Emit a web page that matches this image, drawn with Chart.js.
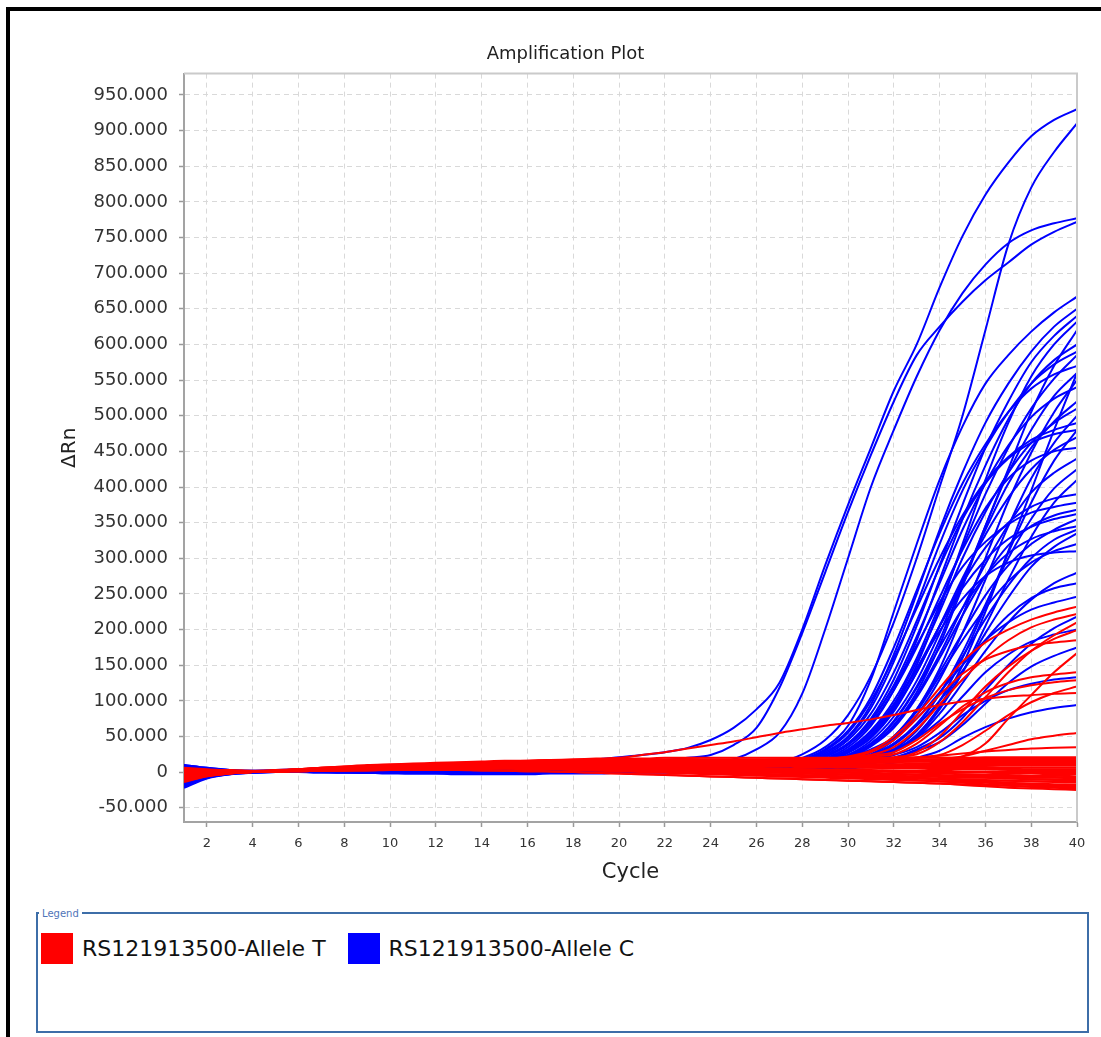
<!DOCTYPE html>
<html>
<head>
<meta charset="utf-8">
<title>Amplification Plot</title>
<script src="https://cdn.jsdelivr.net/npm/chart.js@4.4.1/dist/chart.umd.min.js"></script>
<style>
  html, body { margin: 0; padding: 0; background: #fff; }
  body { width: 1101px; height: 1037px; position: relative; overflow: hidden; font-family: 'DejaVu Sans', sans-serif; }
  #frame { position: absolute; left: 6px; top: 7px; width: 1101px; height: 1040px; border-left: 4px solid #000; border-top: 4px solid #000; }
  #wrap { position: absolute; left: 21px; top: 10px; width: 1080px; height: 884px; }
  #legend-box { position: absolute; left: 36px; top: 912px; width: 1053px; height: 121px; box-sizing: border-box; border: 2px solid #3d6ea8; }
  #legend-title { position: absolute; left: 39px; top: 908px; background: #fff; padding: 0 3px; font-size: 10px; color: #4f74b8; }
  #legend-items { position: absolute; left: 41px; top: 932px; display: flex; gap: 22px; }
  .item { display: flex; align-items: center; height: 32px; font-size: 22px; color: #111; }
  .swatch { width: 32px; height: 31px; margin-right: 9px; }
</style>
</head>
<body>
<div id="frame"></div>
<div id="wrap"><canvas id="chart-amp" width="1080" height="884"></canvas></div>
<div id="legend-box"></div>
<div id="legend-title">Legend</div>
<div id="legend-items"></div>

<script>
const cycles = [1,2,3,4,5,6,7,8,9,10,11,12,13,14,15,16,17,18,19,20,21,22,23,24,25,26,27,28,29,30,31,32,33,34,35,36,37,38,39,40]
const xTickValues = [2,4,6,8,10,12,14,16,18,20,22,24,26,28,30,32,34,36,38,40]
const yTickValues = [-50,0,50,100,150,200,250,300,350,400,450,500,550,600,650,700,750,800,850,900,950]
const seriesNames = ['RS121913500-Allele T', 'RS121913500-Allele C']
const seriesColors = ['#ff0000', '#0000ff']

// Allele T (red) wells
const alleleT = [
    [2,3,3,2,3,4,5,6,7,8,9,10,10,11,12,12,13,13,14,14,15,15,16,16,17,17,18,18,19,19,19,20,20,20,20,21,21,21,21,21],
    [-6,-2,0,1,2,3,4,5,6,7,8,9,10,11,12,13,14,15,16,16,17,17,18,18,18,18,18,18,17,17,17,17,17,17,18,18,18,18,18,18],
    [5,3,1,0,2,4,6,8,10,11,12,13,14,15,16,16,17,17,17,18,18,18,18,17,17,17,16,16,16,16,16,15,15,15,15,15,15,15,15,15],
    [-10,-4,-1,0,1,2,3,4,5,6,7,8,9,9,10,10,11,11,11,12,12,13,13,13,13,12,12,12,11,11,11,11,12,12,12,12,12,12,12,12],
    [0,0,0,0,1,2,3,4,5,6,7,8,9,10,10,11,11,12,12,12,12,12,11,11,11,11,10,10,10,10,10,10,10,10,9,9,9,9,9,9],
    [-14,-6,-2,0,1,3,4,5,6,7,8,9,10,10,11,11,11,11,11,11,11,10,10,10,9,9,9,8,8,8,8,7,7,7,7,7,6,6,6,6],
    [3,2,1,1,2,3,4,5,6,7,8,9,10,11,12,13,14,14,14,14,14,13,13,12,11,10,9,8,7,6,6,5,5,4,4,4,3,3,3,3],
    [-3,-1,0,0,1,2,3,4,5,6,7,8,8,9,9,9,9,9,9,9,8,8,7,7,6,5,5,4,4,3,3,2,2,2,1,1,1,0,0,0],
    [-8,-3,-1,0,1,2,3,3,4,5,5,6,6,7,7,7,8,8,8,8,8,7,7,6,6,5,4,3,3,2,2,1,0,0,-1,-1,-2,-2,-3,-3],
    [4,3,2,1,2,3,4,5,6,7,8,9,10,11,11,12,12,12,12,12,11,10,9,8,7,6,5,4,3,2,1,0,-1,-2,-3,-4,-4,-5,-5,-6],
    [-5,-2,0,0,1,2,2,3,3,4,4,5,5,5,6,6,6,6,6,6,5,5,4,4,3,2,2,1,0,-1,-2,-3,-4,-5,-6,-7,-7,-8,-8,-9],
    [1,1,0,0,1,2,3,4,5,6,7,8,8,9,9,10,10,10,10,10,9,8,7,6,5,4,3,2,1,0,-1,-2,-4,-5,-7,-8,-9,-10,-11,-12],
    [-12,-5,-2,0,1,2,3,4,5,5,6,6,7,7,7,7,7,7,6,6,5,4,3,2,1,0,-1,-2,-3,-4,-5,-6,-8,-9,-10,-11,-12,-13,-14,-15],
    [2,1,0,0,1,2,3,4,5,6,7,8,8,8,8,8,8,7,7,6,5,4,3,2,1,0,-1,-2,-3,-4,-5,-7,-8,-10,-12,-13,-15,-16,-17,-18],
    [-2,-1,0,0,1,2,3,3,4,4,5,5,5,5,5,5,4,4,3,2,1,0,-1,-2,-3,-4,-5,-6,-7,-8,-9,-10,-11,-13,-15,-17,-19,-20,-21,-22],
    [-6,-3,-1,0,1,1,2,2,3,3,3,3,3,3,2,2,1,0,-1,-2,-3,-4,-5,-6,-7,-8,-9,-10,-11,-12,-13,-14,-15,-16,-18,-20,-22,-23,-24,-25],
    [-1,0,0,0,2,4,6,7,8,9,10,11,12,13,14,15,16,17,18,19,19,20,20,20,20,20,20,20,20,20,20,20,20,20,20,19,19,19,19,19],
    [-9,-4,-1,0,1,2,3,4,5,6,6,7,7,7,7,7,6,6,5,4,3,2,1,0,-1,-2,-3,-4,-5,-6,-7,-8,-9,-10,-12,-14,-16,-17,-19,-20],
    [1,1,1,1,2,4,5,7,8,9,10,11,12,13,13,14,14,15,15,15,16,16,16,16,16,17,17,17,17,17,16,16,16,16,16,16,16,16,16,16],
    [-7,-3,-1,0,1,2,3,4,5,6,7,8,9,10,11,12,13,13,14,14,14,14,13,13,13,12,12,12,12,11,11,11,11,11,10,10,10,10,10,10],
    [6,4,2,1,2,3,4,5,6,7,8,8,9,9,10,10,10,10,10,10,10,9,9,9,8,8,8,7,7,7,6,6,6,5,5,5,5,4,4,4],
    [-11,-5,-2,0,1,2,3,4,5,6,6,7,7,8,8,8,8,8,8,8,7,7,6,6,5,5,4,4,3,3,2,2,1,1,0,0,-1,-1,-2,-2],
    [0,0,0,0,1,2,3,4,5,6,7,8,9,9,10,10,10,10,9,9,8,7,6,5,4,3,2,1,0,-1,-2,-3,-3,-4,-5,-5,-6,-7,-7,-8],
    [-4,-2,-1,0,1,2,2,3,3,4,4,4,5,5,5,5,5,4,4,3,2,1,0,-1,-2,-3,-4,-5,-6,-7,-8,-9,-9,-10,-11,-12,-12,-13,-13,-14],
    [3,2,1,0,1,2,3,3,4,4,5,5,5,5,5,4,4,3,2,1,0,-1,-2,-3,-4,-5,-6,-7,-8,-9,-10,-11,-12,-13,-14,-15,-17,-18,-19,-20],
    [-13,-6,-2,0,1,1,2,2,2,3,3,3,3,2,2,1,1,0,-1,-2,-3,-4,-5,-6,-7,-8,-9,-10,-11,-12,-13,-14,-15,-16,-17,-18,-19,-21,-22,-23],
    [-1,0,0,0,1,3,5,6,8,9,10,11,12,13,14,15,16,16,17,17,17,17,17,17,16,16,16,16,15,15,15,15,15,14,14,14,14,14,14,14],
    [2,1,0,0,1,2,3,4,5,6,7,7,8,8,8,8,8,8,7,7,6,5,4,3,2,1,0,-1,-2,-3,-4,-5,-6,-7,-8,-8,-9,-10,-10,-11],
    [-4,-2,0,0,1,2,3,4,5,6,7,8,9,10,11,12,12,13,13,14,14,14,15,15,15,16,16,17,18,22,30,50,80,118,155,182,200,214,224,232],
    [3,2,1,1,2,3,4,5,6,7,8,9,10,10,11,11,12,12,12,13,13,13,13,14,14,14,15,16,17,19,24,35,60,95,130,160,185,203,214,222],
    [-8,-3,-1,0,1,2,3,4,5,5,6,7,7,8,8,9,9,9,10,10,10,10,10,10,11,11,11,12,12,13,15,19,28,50,85,120,148,170,187,199],
    [0,0,0,0,1,2,3,4,5,6,7,8,9,10,11,11,12,12,13,13,13,14,14,14,15,15,16,17,18,21,28,45,75,108,138,158,170,178,182,185],
    [-2,-1,0,0,1,2,3,4,5,6,7,8,9,9,10,10,10,11,11,11,11,11,11,11,12,12,12,12,12,13,13,14,15,17,22,40,75,108,140,167],
    [5,3,2,1,2,3,5,6,7,8,9,10,11,12,12,13,13,14,14,15,15,15,16,16,16,17,17,18,19,21,24,28,45,68,88,104,115,122,126,129],
    [-10,-4,-1,0,1,2,3,4,5,6,7,8,8,9,9,10,10,10,11,11,11,11,12,12,12,12,13,13,14,15,16,18,21,24,38,58,80,98,111,120],
    [1,1,0,0,2,4,6,8,9,10,11,12,13,14,15,16,17,18,19,20,24,28,33,38,43,49,55,60,65,69,74,80,87,94,99,103,106,108,110,111],
    [-3,-1,0,0,1,2,3,4,5,6,7,8,9,10,10,11,11,12,12,12,13,13,13,13,14,14,14,14,15,15,16,16,17,18,22,30,38,46,51,55],
    [2,1,1,0,1,2,3,4,5,6,7,8,9,10,11,12,13,13,14,14,15,15,16,16,16,17,17,17,18,18,18,19,20,23,26,29,31,33,34,35],
    [-6,-2,0,0,1,2,3,4,5,6,7,8,9,10,10,11,11,12,12,13,13,13,14,14,14,15,15,16,17,19,22,25,40,65,92,112,125,133,137,140],
    [4,2,1,0,1,2,3,4,5,6,7,8,9,9,10,10,11,11,12,12,12,13,13,13,13,14,14,14,15,16,18,21,25,42,70,105,140,170,192,210]
]

// Allele C (blue) wells
const alleleC = [
    [-6,-3,-1,0,1,2,3,4,5,6,7,8,9,10,11,12,14,16,18,21,24,28,34,45,62,88,125,200,290,375,455,535,600,680,752,810,855,892,915,930],
    [10,6,3,2,2,3,3,4,4,5,5,6,6,7,8,9,10,11,12,13,15,17,20,24,38,62,118,195,280,365,445,520,585,625,660,690,715,740,758,772],
    [-15,-6,-2,0,1,1,2,2,3,3,3,4,4,4,5,5,5,6,6,7,7,8,9,12,18,32,55,110,200,300,400,480,555,620,672,712,742,760,770,777],
    [9,5,2,1,1,1,1,2,2,2,2,2,2,3,3,3,3,3,3,3,4,4,5,6,7,9,14,25,45,80,135,210,300,400,500,620,740,820,870,910],
    [4,2,1,1,2,3,4,5,6,6,7,7,8,8,8,9,9,9,9,10,10,10,10,10,10,11,14,20,35,65,130,225,320,410,485,545,585,618,645,667],
    [-12,-5,-2,0,1,2,3,4,4,5,5,6,6,6,6,7,7,7,7,7,7,8,8,8,8,9,11,15,28,50,95,165,250,340,420,490,545,590,625,650],
    [-18,-7,-2,0,1,1,2,2,2,3,3,3,3,3,4,4,4,4,4,5,5,5,5,5,5,7,9,12,22,40,75,130,205,290,375,455,520,575,612,640],
    [9,5,2,1,1,1,1,2,2,2,2,2,2,3,3,3,3,3,3,3,4,4,4,4,4,5,6,8,15,28,50,90,150,230,320,410,490,555,600,632],
    [-2,-1,0,0,1,2,2,3,3,4,4,5,5,5,6,6,6,6,6,6,6,6,6,6,6,8,10,14,26,48,90,155,235,320,395,455,505,545,572,590],
    [-22,-9,-3,-1,0,1,1,1,2,2,2,3,3,3,3,3,3,4,4,4,4,4,4,4,4,5,7,10,18,32,58,100,160,235,315,390,455,510,552,585],
    [3,1,0,1,2,3,4,4,5,6,7,7,7,8,8,8,9,9,9,9,10,10,10,11,11,12,14,18,32,58,105,175,255,335,405,460,505,538,558,570],
    [-8,-3,-1,0,0,1,1,1,1,1,2,2,2,2,2,2,2,3,3,3,3,3,3,3,3,4,5,6,12,22,40,72,120,185,265,345,420,480,528,560],
    [6,3,1,0,0,0,1,1,1,1,1,1,1,1,1,1,1,1,1,1,1,1,1,1,1,2,3,5,9,16,28,50,88,145,220,300,380,448,505,550],
    [-10,-4,-1,0,1,2,2,3,4,4,5,5,5,6,6,6,6,7,7,7,7,7,8,8,8,9,10,12,22,40,72,122,190,265,340,405,458,498,524,540],
    [-15,-6,-2,0,1,1,1,2,2,2,3,3,3,3,3,4,4,4,4,4,4,5,5,5,5,6,7,9,17,30,55,95,155,225,300,365,420,462,490,510],
    [-4,-1,0,0,0,0,0,-1,-1,-1,-2,-2,-2,-2,-2,-2,-1,-1,-1,-1,0,0,0,0,0,1,2,4,8,14,25,45,80,130,195,270,345,412,462,500],
    [1,0,0,0,1,2,3,3,4,4,5,5,6,6,6,6,6,7,7,7,7,7,7,7,7,8,11,16,30,55,100,160,230,300,360,408,442,466,480,490],
    [2,1,0,0,1,1,1,2,2,2,2,1,1,1,1,1,0,0,0,0,0,0,1,1,1,1,2,3,6,10,18,32,58,100,160,232,308,378,437,480],
    [7,4,2,1,1,2,2,2,2,3,3,3,3,3,3,4,4,4,4,4,4,4,4,5,5,5,6,8,15,27,48,85,140,205,272,333,385,425,452,470],
    [-19,-8,-3,-1,0,0,1,1,1,2,2,2,2,2,3,3,3,3,3,3,3,3,3,3,4,4,5,6,12,22,38,65,108,165,230,292,347,392,420,440],
    [-6,-2,-1,0,0,0,-1,-1,-1,-2,-2,-2,-3,-3,-3,-3,-2,-2,-2,-1,-1,-1,0,0,0,1,2,3,5,9,16,28,50,88,140,205,270,330,378,410],
    [5,3,2,2,3,4,5,5,6,7,7,8,8,8,9,9,9,9,9,10,10,10,10,10,10,10,11,12,22,40,72,120,178,238,288,323,348,364,372,378],
    [-14,-6,-2,0,1,2,3,3,4,4,5,5,5,6,6,6,6,6,7,7,7,7,7,7,7,8,8,9,16,30,52,92,145,205,258,298,327,344,355,362],
    [-6,-2,-1,0,0,0,1,1,1,1,1,1,2,2,2,2,2,2,2,3,3,3,3,3,3,3,4,5,9,16,28,50,88,140,195,248,290,320,340,355],
    [-20,-8,-2,0,1,1,2,2,3,3,3,3,3,4,4,4,4,4,4,5,5,5,5,5,5,5,6,7,13,24,40,70,118,175,230,275,307,327,338,345],
    [4,2,1,0,0,0,0,1,1,1,1,1,1,1,1,1,1,1,1,1,1,1,1,1,1,1,2,3,6,10,18,30,52,90,140,195,245,288,316,335],
    [10,6,3,1,1,1,2,2,2,2,2,2,3,3,3,3,3,3,3,3,3,3,4,4,4,4,4,5,10,18,30,48,85,135,185,230,268,294,310,320],
    [0,0,0,0,1,1,1,1,2,2,2,2,2,1,1,1,1,1,0,0,0,0,0,1,1,1,2,3,6,11,18,30,48,82,125,170,210,242,265,280],
    [-3,-1,0,0,1,1,2,2,3,3,4,4,4,5,5,5,5,5,5,5,5,5,5,5,5,6,6,6,11,20,32,48,75,112,150,185,210,228,238,246],
    [-2,0,0,0,0,0,0,0,-1,-1,-1,-1,-1,-1,-1,-1,-1,-1,0,0,0,0,0,0,0,0,1,2,4,7,12,20,32,48,76,115,150,180,202,218],
    [-9,-4,-1,0,0,1,1,1,2,2,2,2,2,2,2,2,2,2,2,2,2,3,3,3,3,3,3,4,8,14,22,32,48,72,106,140,165,183,193,200],
    [7,4,2,1,0,0,0,0,0,0,0,0,0,0,0,1,1,1,1,1,1,1,1,1,1,1,1,2,4,7,12,20,30,42,66,96,125,148,163,175],
    [-16,-7,-3,-1,0,0,1,1,1,1,2,2,2,2,2,3,3,3,3,3,3,3,3,3,3,3,3,3,6,10,16,24,35,55,80,100,115,124,130,133],
    [3,2,1,0,0,1,1,1,1,1,1,1,1,0,0,0,0,0,0,0,0,0,0,1,1,1,1,2,3,5,8,13,20,30,48,63,75,84,90,94],
    [-7,-3,-1,0,1,1,2,2,3,3,3,4,4,4,4,5,5,5,5,5,5,6,6,6,6,7,8,10,19,35,65,115,185,270,355,430,495,545,578,600],
    [5,3,1,0,0,1,1,2,2,2,2,3,3,3,3,3,3,3,4,4,4,4,4,4,4,5,6,7,13,24,44,78,128,195,268,340,405,455,492,520],
    [-11,-4,-1,0,1,2,3,4,5,5,6,6,7,7,7,8,8,8,8,8,8,8,9,9,9,9,10,11,21,38,68,115,175,245,312,370,412,437,450,455],
    [0,0,0,0,0,0,0,0,0,-1,-1,-1,-1,-1,-1,-1,-1,0,0,0,0,0,0,1,1,2,3,4,7,12,21,38,66,110,168,235,300,355,398,425],
    [8,4,2,1,1,2,2,3,3,4,4,4,5,5,5,5,5,6,6,6,6,6,6,6,6,6,7,8,15,28,50,88,140,205,265,315,350,372,384,390],
    [-17,-7,-2,0,1,1,1,2,2,2,3,3,3,3,3,4,4,4,4,4,4,4,4,4,5,5,5,6,11,20,36,62,105,160,220,275,318,345,360,368],
    [3,1,0,0,1,1,1,1,1,1,2,2,2,2,2,2,2,2,2,2,2,2,2,2,2,3,3,4,7,13,23,40,68,110,162,215,262,300,326,340],
    [-5,-2,0,0,1,2,3,4,4,5,5,6,6,6,7,7,7,7,7,7,7,7,7,7,7,7,8,9,17,31,55,95,145,198,243,275,294,304,308,310],
    [1,1,0,0,0,0,0,0,-1,-1,-1,-1,-1,-1,-1,-1,0,0,0,0,0,0,0,0,1,1,2,3,5,9,16,29,52,92,150,225,310,395,480,560],
    [6,3,1,1,2,3,4,5,6,6,7,7,8,8,8,8,9,9,9,9,9,10,10,10,10,11,12,13,24,45,82,140,212,288,355,405,440,462,474,480],
    [-9,-4,-1,0,0,1,1,1,1,2,2,2,2,2,2,2,2,2,2,2,2,2,3,3,3,3,3,4,8,14,24,40,65,100,142,185,220,244,258,265],
    [-13,-5,-2,0,1,1,2,2,2,2,3,3,3,3,3,3,3,4,4,4,4,4,4,4,4,5,5,6,11,20,37,66,112,178,260,345,425,505,570,620]
]

Chart.defaults.font.family = "'DejaVu Sans', sans-serif"
Chart.defaults.color = '#333'

function makeLine(values, color) {
    return {
        data: values,
        borderColor: color,
        borderWidth: 2,
        pointRadius: 0,
        fill: false,
        cubicInterpolationMode: 'monotone'
    }
}

// red first so it is painted on top of the blue wells
const datasets = []
alleleT.forEach(values => datasets.push(makeLine(values, seriesColors[0])))
alleleC.forEach(values => datasets.push(makeLine(values, seriesColors[1])))

// light top / right edges of the plot box
const plotFrame = {
    id: 'plotFrame',
    afterDraw(chart) {
        const {ctx, chartArea} = chart
        ctx.save()
        ctx.strokeStyle = '#cacaca'
        ctx.lineWidth = 2
        ctx.beginPath()
        ctx.moveTo(chartArea.left, chartArea.top)
        ctx.lineTo(chartArea.right, chartArea.top)
        ctx.lineTo(chartArea.right, chartArea.bottom)
        ctx.stroke()
        ctx.restore()
    }
}

const gridStyle = {
    color: '#d9d9d9',
    lineWidth: 1,
    tickLength: 5,
    tickColor: '#999',
    tickWidth: 1.5,
    tickBorderDash: []
}
const borderStyle = {color: '#a3a3a3', width: 2, dash: [5, 4]}

new Chart(document.getElementById('chart-amp').getContext('2d'), {
    type: 'line',
    data: {labels: cycles, datasets: datasets},
    options: {
        responsive: false,
        animation: false,
        layout: {padding: {left: 33, right: 24, top: 0, bottom: 5}},
        plugins: {
            legend: {display: false},
            tooltip: {enabled: false},
            title: {
                display: true,
                text: 'Amplification Plot',
                color: '#222',
                font: {size: 18, weight: 'normal'},
                padding: {top: 34, bottom: 8}
            }
        },
        scales: {
            x: {
                type: 'linear',
                min: 1,
                max: 40,
                afterBuildTicks: scale => { scale.ticks = xTickValues.map(v => ({value: v})) },
                afterFit: scale => { scale.height = 67 },
                ticks: {font: {size: 13}, color: '#333', padding: 9, maxRotation: 0, autoSkip: false},
                grid: gridStyle,
                border: borderStyle,
                title: {display: true, text: 'Cycle', color: '#222', font: {size: 21}}
            },
            y: {
                min: -70,
                max: 980,
                afterBuildTicks: scale => { scale.ticks = yTickValues.map(v => ({value: v})) },
                afterFit: scale => { scale.width = 130 },
                ticks: {
                    font: {size: 18},
                    color: '#333',
                    padding: 11,
                    callback: v => v === 0 ? '0' : v.toFixed(3)
                },
                grid: gridStyle,
                border: borderStyle,
                title: {display: true, text: 'ΔRn', color: '#222', font: {size: 20}}
            }
        }
    },
    plugins: [plotFrame]
})

// legend panel under the plot
const legendItems = document.getElementById('legend-items')
seriesNames.forEach((name, i) => {
    const item = document.createElement('div')
    item.className = 'item'
    const swatch = document.createElement('span')
    swatch.className = 'swatch'
    swatch.style.background = seriesColors[i]
    item.appendChild(swatch)
    item.appendChild(document.createTextNode(name))
    legendItems.appendChild(item)
})
</script>
</body>
</html>
